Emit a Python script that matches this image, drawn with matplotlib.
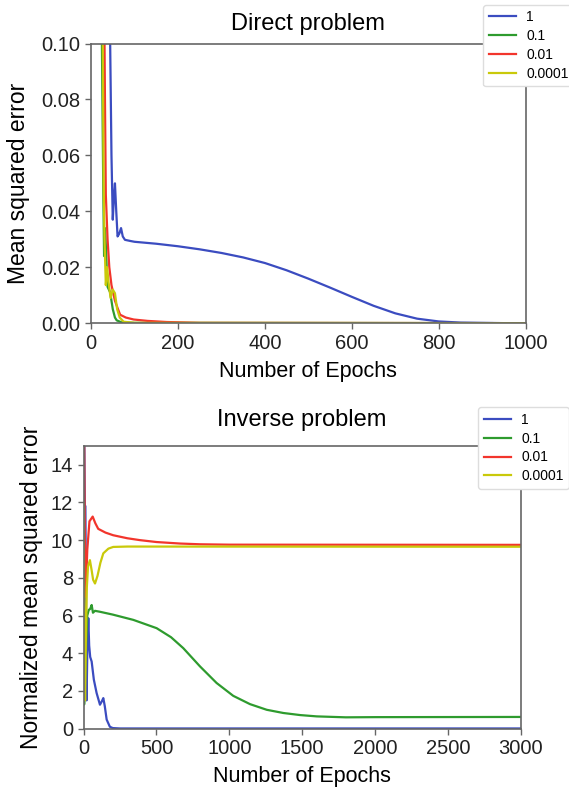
import matplotlib
matplotlib.use("Agg")
import matplotlib.pyplot as plt

plt.rcParams['font.family'] = ['Liberation Sans', 'DejaVu Sans']

labels = ["1", "0.1", "0.01", "0.0001"]
colors = ["#3b4cc0", "#2e9b2e", "#f2352c", "#c9c90a"]

# direct problem (epoch, mse)
d_blue_x = [0, 40, 44, 47, 50, 53, 55, 58, 61, 65, 69, 73, 78, 90, 100, 150, 200, 250, 300,
            350, 400, 450, 500, 550, 600, 650, 700, 750, 800, 850, 900, 950, 1000]
d_blue_y = [0.5, 0.2, 0.1, 0.06, 0.037, 0.046, 0.050, 0.040, 0.031, 0.032, 0.034, 0.031,
            0.0298, 0.0294, 0.0291, 0.0284, 0.0275, 0.0264, 0.0251, 0.0235, 0.0215, 0.0189,
            0.0159, 0.0127, 0.0094, 0.0062, 0.0035, 0.0016, 0.0006, 0.0002, 0.0001, 0.0, 0.0]
d_green_x = [0, 22, 25, 28, 30, 32, 34, 36, 38, 41, 44, 50, 55, 59, 70, 100, 1000]
d_green_y = [0.5, 0.2, 0.1, 0.05, 0.024, 0.034, 0.028, 0.02, 0.013, 0.012, 0.011, 0.005,
             0.002, 0.001, 0.0003, 0.0001, 0.0]
d_red_x = [0, 25, 30, 32, 34, 38, 42, 47, 55, 62, 67, 80, 98, 130, 174, 250, 1000]
d_red_y = [0.5, 0.3, 0.12, 0.08, 0.046, 0.03, 0.02, 0.0136, 0.008, 0.005, 0.003, 0.002,
           0.0013, 0.0008, 0.0004, 0.0001, 0.0]
d_yellow_x = [0, 24, 27, 29, 31, 34, 37, 40, 45, 50, 55, 60, 66, 75, 100, 1000]
d_yellow_y = [0.5, 0.2, 0.1, 0.05, 0.03, 0.0136, 0.02, 0.015, 0.009, 0.012, 0.0107, 0.005,
              0.002, 0.0005, 0.0001, 0.0]

# inverse problem (epoch, normalized mse)
i_blue_x = [0, 5, 8, 12, 16, 20, 26, 32, 38, 45, 55, 70, 89, 112, 125, 135, 145, 158, 180,
            200, 250, 3000]
i_blue_y = [20, 15, 11.85, 11.8, 7.0, 1.5, 4.5, 5.86, 4.4, 3.8, 3.56, 2.6, 1.89, 1.27,
            1.45, 1.62, 1.2, 0.48, 0.1, 0.03, 0.01, 0.01]
i_green_x = [0, 5, 15, 25, 35, 45, 55, 64, 78, 112, 200, 341, 501, 600, 684, 799, 913, 1027,
             1142, 1257, 1371, 1486, 1600, 1800, 2000, 3000]
i_green_y = [1.27, 1.3, 4.0, 6.0, 6.3, 6.35, 6.56, 6.15, 6.25, 6.2, 6.05, 5.77, 5.33, 4.85,
             4.27, 3.3, 2.42, 1.74, 1.3, 1.0, 0.83, 0.72, 0.65, 0.6, 0.61, 0.62]
i_red_x = [0, 8, 14, 25, 40, 62, 80, 100, 150, 203, 300, 387, 500, 661, 800, 1000, 3000]
i_red_y = [20, 10, 7.0, 9.5, 11.0, 11.25, 10.9, 10.6, 10.4, 10.26, 10.1, 10.0, 9.9, 9.82,
           9.78, 9.76, 9.75]
i_yellow_x = [0, 6, 10, 15, 22, 30, 43, 55, 65, 78, 95, 115, 135, 170, 203, 300, 3000]
i_yellow_y = [12, 3, 1.5, 4.5, 7.5, 8.6, 8.94, 8.4, 7.9, 7.7, 8.1, 8.8, 9.3, 9.55, 9.64,
              9.66, 9.65]

direct = [(d_blue_x, d_blue_y), (d_green_x, d_green_y), (d_red_x, d_red_y), (d_yellow_x, d_yellow_y)]
inverse = [(i_blue_x, i_blue_y), (i_green_x, i_green_y), (i_red_x, i_red_y), (i_yellow_x, i_yellow_y)]

fig = plt.figure(figsize=(5.69, 7.92), dpi=100)
ax1 = fig.add_axes([0.160, 0.592, 0.764, 0.353])
ax2 = fig.add_axes([0.147, 0.080, 0.768, 0.357])


def style(ax):
    for s in ax.spines.values():
        s.set_color("#666666")
        s.set_linewidth(1.2)
    ax.tick_params(colors="#666666", labelcolor="#222222", labelsize=14.5, length=4, width=1)


leg_kw = dict(fontsize=10, framealpha=1, edgecolor="#dddddd", borderpad=0.4, labelspacing=0.35,
              borderaxespad=0, handletextpad=0.7)

for (x, y), c, l in zip(direct, colors, labels):
    ax1.plot(x, y, color=c, lw=1.6, label=l)
ax1.set_xlim(0, 1000)
ax1.set_ylim(0, 0.1)
ax1.set_yticks([0, 0.02, 0.04, 0.06, 0.08, 0.10])
ax1.set_yticklabels(["0.00", "0.02", "0.04", "0.06", "0.08", "0.10"])
ax1.set_title("Direct problem", fontsize=17, pad=10)
ax1.set_xlabel("Number of Epochs", fontsize=15.5, labelpad=6)
ax1.set_ylabel("Mean squared error", fontsize=16.5, labelpad=8)
style(ax1)
ax1.legend(loc="upper left", bbox_to_anchor=(0.849, 0.994), bbox_transform=fig.transFigure,
           **leg_kw)

for (x, y), c, l in zip(inverse, colors, labels):
    ax2.plot(x, y, color=c, lw=1.6, label=l)
ax2.set_xlim(0, 3000)
ax2.set_ylim(0, 15)
ax2.set_yticks([0, 2, 4, 6, 8, 10, 12, 14])
ax2.set_title("Inverse problem", fontsize=17, pad=14)
ax2.set_xlabel("Number of Epochs", fontsize=15.5, labelpad=6)
ax2.set_ylabel("Normalized mean squared error", fontsize=16.5, labelpad=6)
style(ax2)
ax2.legend(loc="upper left", bbox_to_anchor=(0.840, 0.486), bbox_transform=fig.transFigure,
           **leg_kw)

fig.savefig("out.png", dpi=100)
